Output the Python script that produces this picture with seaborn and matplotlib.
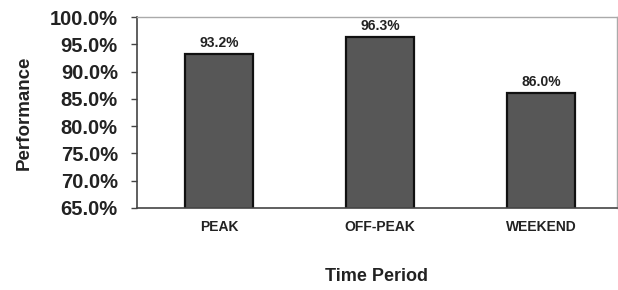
import pandas as pd
import matplotlib
matplotlib.use("Agg")
import matplotlib.pyplot as plt
import seaborn as sns
from matplotlib.ticker import PercentFormatter

# ── Data ───────────────────────────────────────────────────────────────────────
periods = ["PEAK", "OFF-PEAK", "WEEKEND"]
performance = [93.2, 96.3, 86.0]
bar_labels = ["93.2%", "96.3%", "86.0%"]
yticks = [65, 70, 75, 80, 85, 90, 95, 100]

df = pd.DataFrame({"period": periods, "performance": performance})

# ── Plot ───────────────────────────────────────────────────────────────────────
sns.set_style("white")
plt.rcParams["font.family"] = ["Liberation Sans", "DejaVu Sans"]

fig = plt.figure(figsize=(6.18, 2.90), dpi=100)
ax = fig.add_axes([0.222, 0.283, 0.776, 0.658])

sns.barplot(data=df, x="period", y="performance", ax=ax, color="#575757",
            edgecolor="#111111", linewidth=1.6, width=0.42, saturation=1)

for i, (v, lab) in enumerate(zip(performance, bar_labels)):
    ax.text(i, v + 0.8, lab, ha="center", va="bottom", fontsize=10, fontweight="bold", color="#222222")

ax.set_ylim(65, 100)
ax.set_xlim(-0.51, 2.47)
ax.set_yticks(yticks)
ax.yaxis.set_major_formatter(PercentFormatter(decimals=1))
ax.tick_params(axis="y", labelsize=14.5, length=4, width=1, color="#444444", direction="out", left=True, pad=10)
ax.tick_params(axis="x", labelsize=10, length=0, pad=9)
for t in ax.get_yticklabels() + ax.get_xticklabels():
    t.set_fontweight("bold")
    t.set_color("#222222")

ax.set_xlabel("Time Period", fontsize=13, fontweight="bold", labelpad=24, color="#222222")
ax.set_ylabel("Performance", fontsize=13.5, fontweight="bold", labelpad=12, color="#222222")

for side in ["left", "bottom"]:
    ax.spines[side].set_color("#444444")
    ax.spines[side].set_linewidth(1.2)
for side in ["top", "right"]:
    ax.spines[side].set_color("#aaaaaa")
    ax.spines[side].set_linewidth(1.0)

plt.savefig("out.png", dpi=100)
